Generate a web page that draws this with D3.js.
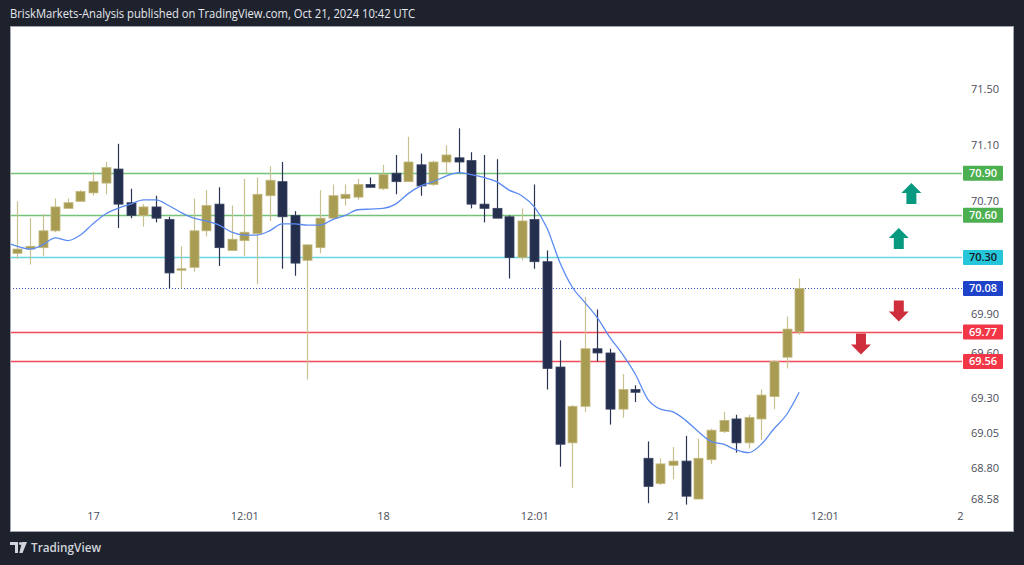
<!DOCTYPE html>
<html><head><meta charset="utf-8">
<script src="https://cdn.jsdelivr.net/npm/d3@7/dist/d3.min.js"></script>
<style>html,body{margin:0;padding:0;background:#1e222d;overflow:hidden}svg{display:block}</style>
</head><body>
<script>
// ---- data ----
const firstIdx = -6; // bar index of first candle (0 = start of day "17")
const opens  = [70.33,70.36,70.37,70.49,70.65,70.70,70.76,70.83,70.93,70.69,70.60,70.66,70.57,70.21,70.23,70.49,70.68,70.35,70.42,70.47,70.74,70.84,70.60,70.28,70.37,70.58,70.72,70.73,70.82,70.79,70.90,70.84,70.96,70.82,70.98,71.01,70.99,70.68,70.65,70.59,70.30,70.57,70.27,69.52,68.98,69.24,69.65,69.62,69.22,69.36,68.87,68.69,68.82,68.85,68.58,68.86,69.06,69.15,68.98,69.15,69.31,69.59,69.77];
const highs  = [70.70,70.58,70.61,70.72,70.72,70.78,70.91,70.98,71.11,70.79,70.68,70.74,70.59,70.38,70.72,70.78,70.80,70.67,70.86,70.87,70.95,70.98,70.63,70.39,70.78,70.82,70.82,70.86,70.87,70.96,71.03,71.16,71.04,70.99,71.10,71.22,71.05,71.03,71.00,70.60,70.65,70.82,70.35,69.71,69.25,70.02,69.93,69.65,69.47,69.39,68.99,68.87,68.95,69.03,69.01,69.08,69.20,69.18,69.18,69.36,69.57,69.88,70.15];
const lows   = [70.29,70.25,70.31,70.48,70.65,70.70,70.74,70.75,70.51,70.58,70.52,70.55,70.08,70.08,70.20,70.45,70.24,70.35,70.31,70.11,70.56,70.22,70.17,69.43,70.33,70.58,70.67,70.71,70.80,70.78,70.75,70.84,70.74,70.81,70.90,70.90,70.65,70.55,70.58,70.15,70.28,70.22,69.36,68.81,68.66,69.20,69.56,69.11,69.16,69.27,68.55,68.68,68.72,68.54,68.58,68.83,69.05,68.91,68.94,69.00,69.22,69.51,69.75];
const closes = [70.36,70.38,70.49,70.66,70.69,70.77,70.84,70.94,70.68,70.60,70.66,70.58,70.19,70.22,70.49,70.67,70.37,70.43,70.48,70.75,70.85,70.59,70.26,70.39,70.58,70.74,70.75,70.82,70.80,70.89,70.84,70.98,70.81,70.98,71.03,70.98,70.68,70.65,70.58,70.30,70.56,70.27,69.51,68.97,69.24,69.65,69.62,69.22,69.36,69.34,68.67,68.83,68.85,68.60,68.87,69.07,69.14,68.98,69.16,69.32,69.56,69.79,70.08];
const maFirstIdx = -7;
const maValues = [70.41,70.38,70.36,70.39,70.44,70.42,70.46,70.54,70.61,70.65,70.68,70.71,70.71,70.67,70.62,70.58,70.56,70.53,70.48,70.46,70.46,70.49,70.54,70.54,70.53,70.53,70.57,70.60,70.64,70.645,70.65,70.68,70.755,70.81,70.84,70.88,70.905,70.89,70.87,70.84,70.78,70.74,70.66,70.51,70.27,70.09,69.98,69.87,69.73,69.61,69.47,69.29,69.22,69.20,69.14,69.06,68.99,68.97,68.93,68.91,68.97,69.08,69.18,69.34];
const levelPrices = [70.90, 70.60, 70.30, 70.08, 69.77, 69.56];
const levelKinds  = ["green","green","cyan","last","red","red"];
const priceTicks = [71.50, 71.10, 70.70, 69.90, 69.62, 69.30, 69.05, 68.80, 68.58];
const priceTickLabels = ["71.50","71.10","70.70","69.90","69.60","69.30","69.05","68.80","68.58"];
const timeTicks = [0, 12, 23, 35, 46, 58, 69];
const timeTickLabels = ["17","12:01","18","12:01","21","12:01","22"];
const arrowIdx = [64.9, 63.9, 63.9, 60.9];
const arrowPrice = [70.83, 70.51, 69.845, 69.61];
const arrowDir = ["up","up","down","down"];
const headerText = "BriskMarkets-Analysis published on TradingView.com, Oct 21, 2024 10:42 UTC";

// ---- layout ----
const W = 1024, H = 565;
const panel = {x0: 10, y0: 26, x1: 1013, y1: 531};
const plotRight = 962, plotBottom = 506;
const x = d3.scaleLinear().domain([0, 69]).range([93, 963.1]);
const y = d3.scaleLinear().domain([68.58, 71.50]).range([499, 89]);

const colors = {
  up: "#a89b52", upStroke: "#c2b87e", upWick: "#c9c08f",
  down: "#242f4d", downWick: "#2b3552",
  ma: "#5b8bf2",
  green: "#66bb6a", greenBox: "#4caf50",
  cyan: "#56d0e0", cyanBox: "#26c6da",
  last: "#2b4fc4", lastBox: "#1e43c8",
  red: "#f23645", redBox: "#f23645",
  arrowUp: "#089981", arrowDown: "#cf2e3d"
};
const font = "'Open Sans', 'DejaVu Sans', sans-serif";

const svg = d3.select("body").append("svg").attr("width", W).attr("height", H);
svg.append("rect").attr("width", W).attr("height", H).attr("fill", "#1e222d");

svg.append("text").attr("x", 10).attr("y", 18).attr("fill", "#e6e8ee")
  .attr("font-family", font).attr("font-size", 12).attr("font-weight", 500)
  .attr("textLength", 405).attr("lengthAdjust", "spacingAndGlyphs")
  .text(headerText);

svg.append("rect").attr("x", panel.x0 + 0.5).attr("y", panel.y0 + 0.5)
  .attr("width", panel.x1 - panel.x0).attr("height", panel.y1 - panel.y0)
  .attr("fill", "#ffffff").attr("stroke", "#a3a6af").attr("stroke-width", 1);

const defs = svg.append("defs");
defs.append("clipPath").attr("id", "plotclip").append("rect")
  .attr("x", panel.x0 + 1).attr("y", panel.y0 + 1)
  .attr("width", plotRight - panel.x0 - 1).attr("height", plotBottom - panel.y0);

const plot = svg.append("g").attr("clip-path", "url(#plotclip)");

// horizontal levels
levelPrices.forEach((p, k) => {
  const kind = levelKinds[k];
  const yy = Math.round(y(p)) + 0.5;
  const l = plot.append("line").attr("x1", panel.x0).attr("x2", plotRight + 2)
    .attr("y1", yy).attr("y2", yy).attr("stroke", colors[kind]);
  if (kind === "last") l.attr("stroke-width", 1).attr("stroke-dasharray", "1,2");
  else l.attr("stroke-width", 1.4).attr("stroke-opacity", 0.9);
});

// candles
const candles = opens.map((o, k) => ({i: firstIdx + k, o, h: highs[k], l: lows[k], c: closes[k]}));
const bw = 9;
const cg = plot.append("g");
candles.forEach(d => {
  const up = d.c >= d.o;
  const cx = Math.round(x(d.i)) + 0.5;
  cg.append("line").attr("x1", cx).attr("x2", cx).attr("y1", y(d.h)).attr("y2", y(d.l))
    .attr("stroke", up ? colors.upWick : colors.downWick).attr("stroke-width", 1.2);
  const top = y(Math.max(d.o, d.c)), bot = y(Math.min(d.o, d.c));
  cg.append("rect").attr("x", cx - bw / 2).attr("y", top)
    .attr("width", bw).attr("height", Math.max(1.5, bot - top))
    .attr("fill", up ? colors.up : colors.down)
    .attr("stroke", up ? colors.upStroke : "#3a4463").attr("stroke-width", 0.8);
});

// moving average
const maData = maValues.map((v, k) => ({i: maFirstIdx + k, v}));
plot.append("path").datum(maData)
  .attr("d", d3.line().x(d => x(d.i)).y(d => y(d.v)).curve(d3.curveMonotoneX))
  .attr("fill", "none").attr("stroke", colors.ma).attr("stroke-width", 1.3);

// arrows
arrowIdx.forEach((ai, k) => {
  const cx = x(ai), ty = y(arrowPrice[k]);
  const up = arrowDir[k] === "up";
  const s = up ? 1 : -1;
  const pts = [[0, 0], [10, 10 * s], [5, 10 * s], [5, 21 * s], [-5, 21 * s], [-5, 10 * s], [-10, 10 * s]];
  plot.append("path")
    .attr("d", "M" + pts.map(p => (cx + p[0]) + "," + (ty + p[1])).join("L") + "Z")
    .attr("fill", up ? colors.arrowUp : colors.arrowDown);
});

// price axis
const pAxis = svg.append("g").attr("transform", `translate(${971},0)`)
  .call(d3.axisRight(y).tickValues(priceTicks).tickSize(0).tickPadding(0)
    .tickFormat((d, k) => priceTickLabels[k]));
pAxis.select(".domain").remove();
pAxis.selectAll("text").attr("fill", "#4a4e59").attr("font-family", font).attr("font-size", 11);

// level labels
levelPrices.forEach((p, k) => {
  const kind = levelKinds[k];
  const yy = y(p);
  svg.append("rect").attr("x", 963).attr("y", yy - 7.5).attr("width", 40).attr("height", 15)
    .attr("fill", colors[kind + "Box"]).attr("rx", 1);
  svg.append("text").attr("x", 983).attr("y", yy).attr("dy", "0.36em").attr("text-anchor", "middle")
    .attr("fill", kind === "cyan" ? "#131722" : "#ffffff")
    .attr("font-family", font).attr("font-size", 11).attr("font-weight", 600)
    .text(p.toFixed(2));
});

// time axis
defs.append("clipPath").attr("id", "timeclip").append("rect")
  .attr("x", panel.x0).attr("y", plotBottom).attr("width", 964 - panel.x0).attr("height", 24);
const tWrap = svg.append("g").attr("clip-path", "url(#timeclip)");
const tAxis = tWrap.append("g").attr("transform", `translate(0,${512})`)
  .call(d3.axisBottom(x).tickValues(timeTicks).tickSize(0).tickPadding(0)
    .tickFormat((d, k) => timeTickLabels[k]));
tAxis.select(".domain").remove();
tAxis.selectAll("text").attr("fill", "#4a4e59").attr("font-family", font).attr("font-size", 11);

// footer logo
const logo = svg.append("g").attr("fill", "#d1d4dc");
logo.append("path").attr("d", "M10,542 h8 v11 h-3 v-8 h-5 z");
logo.append("circle").attr("cx", 20.5).attr("cy", 543.5).attr("r", 1.6);
logo.append("path").attr("d", "M22,542 h5 l-4.5,11 h-3.2 z");
svg.append("text").attr("x", 31).attr("y", 552).attr("fill", "#d1d4dc")
  .attr("font-family", font).attr("font-size", 12.5).attr("font-weight", 600)
  .attr("textLength", 70).attr("lengthAdjust", "spacingAndGlyphs").text("TradingView");
</script>
</body></html>
